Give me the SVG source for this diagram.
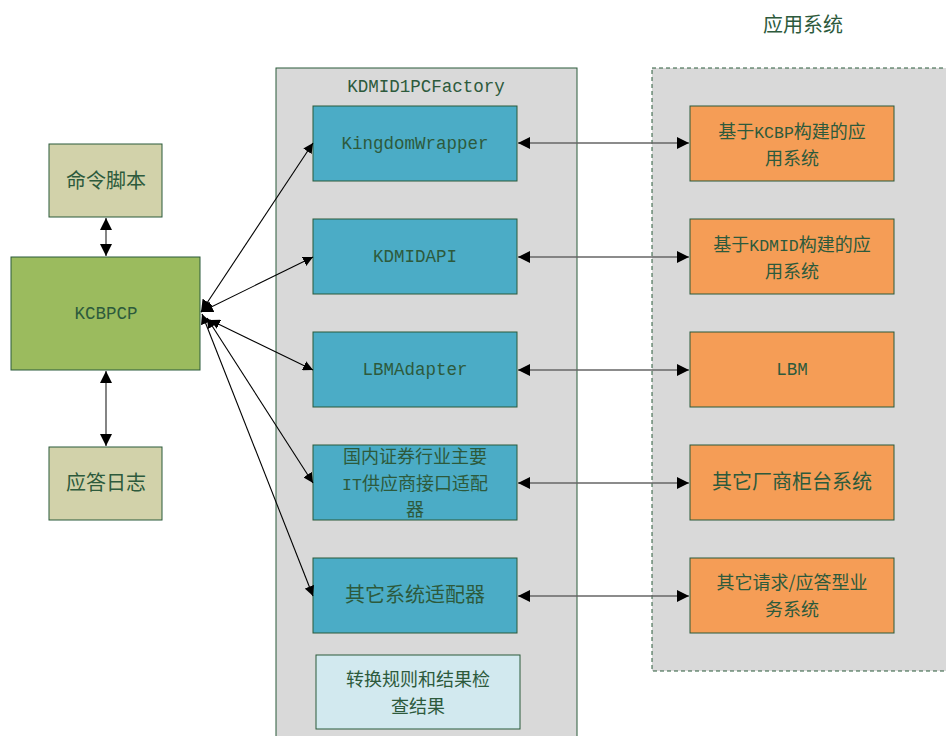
<svg xmlns="http://www.w3.org/2000/svg" width="946" height="736" viewBox="0 0 946 736">
<defs>
<style>
.t{font-family:"Noto Sans CJK SC","Liberation Mono",monospace;font-size:20px;fill:#2d5a3c;text-anchor:middle}
.s{font-size:18px}
.m{font-family:"Liberation Mono","Noto Sans CJK SC",monospace;font-size:17.5px}
.s .m{font-size:16.5px}
.box{stroke:#2a5a3a;stroke-width:1}
.cmd{fill:#d2d2aa}
.kc{fill:#9bbb5e}
.tl{fill:#4bacc6}
.or{fill:#f59d56}
.lt{fill:#d2e9ef}
.cn{fill:#d9d9d9}
.ln{stroke:#000;stroke-width:1.1;fill:none}
.hl{stroke:#666;stroke-width:1.6;fill:none}
</style>
<marker id="a" viewBox="0 0 10 10" refX="10" refY="5" markerWidth="10" markerHeight="10" markerUnits="userSpaceOnUse" orient="auto-start-reverse">
<path d="M0,0L10,5L0,10z" fill="#000"/>
</marker>
<marker id="b" viewBox="0 0 10 10" refX="10" refY="5" markerWidth="12" markerHeight="12" markerUnits="userSpaceOnUse" orient="auto-start-reverse">
<path d="M0,0L10,5L0,10z" fill="#000"/>
</marker>
</defs>
<rect width="946" height="736" fill="#fff"/>

<g id="factory">
<rect class="box cn" x="276" y="68" width="301" height="680"/>
<text class="t m" x="426" y="92">KDMID1PCFactory</text>
</g>
<g id="appsys">
<rect x="652" y="68" width="310" height="603" fill="#d9d9d9" stroke="#2a5a3a" stroke-width="1" stroke-dasharray="4,3"/>
<text class="t" x="803" y="32">应用系统</text>
</g>

<g id="cmd"><rect class="box cmd" x="49" y="144" width="113" height="73"/><text class="t" x="106" y="188">命令脚本</text></g>
<g id="kcbpcp"><rect class="box kc" x="11" y="257" width="189" height="113"/><text class="t m" x="106" y="319">KCBPCP</text></g>
<g id="log"><rect class="box cmd" x="49" y="447" width="113" height="73"/><text class="t" x="106" y="490">应答日志</text></g>

<g id="kw"><rect class="box tl" x="313" y="106" width="204" height="75"/><text class="t m" x="415" y="149">KingdomWrapper</text></g>
<g id="kapi"><rect class="box tl" x="313" y="219" width="204" height="75"/><text class="t m" x="415" y="262">KDMIDAPI</text></g>
<g id="lbma"><rect class="box tl" x="313" y="332" width="204" height="75"/><text class="t m" x="415" y="375">LBMAdapter</text></g>
<g id="itad"><rect class="box tl" x="313" y="445" width="204" height="75"/>
<text class="t s" x="415" y="463">国内证券行业主要</text>
<text class="t s" x="415" y="489.5"><tspan class="m">IT</tspan>供应商接口适配</text>
<text class="t s" x="415" y="516">器</text></g>
<g id="otad"><rect class="box tl" x="313" y="558" width="204" height="75"/><text class="t" x="415" y="602">其它系统适配器</text></g>
<g id="rule"><rect class="box lt" x="316" y="655" width="204" height="74"/>
<text class="t s" x="418" y="686">转换规则和结果检</text>
<text class="t s" x="418" y="712.5">查结果</text></g>

<g id="app1"><rect class="box or" x="690" y="106" width="204" height="75"/>
<text class="t s" x="792" y="138">基于<tspan class="m">KCBP</tspan>构建的应</text>
<text class="t s" x="792" y="164.5">用系统</text></g>
<g id="app2"><rect class="box or" x="690" y="219" width="204" height="75"/>
<text class="t s" x="792" y="251">基于<tspan class="m">KDMID</tspan>构建的应</text>
<text class="t s" x="792" y="277.5">用系统</text></g>
<g id="lbm"><rect class="box or" x="690" y="332" width="204" height="75"/><text class="t m" x="792" y="375">LBM</text></g>
<g id="other"><rect class="box or" x="690" y="445" width="204" height="75"/><text class="t" x="792" y="489">其它厂商柜台系统</text></g>
<g id="rr"><rect class="box or" x="690" y="558" width="204" height="75"/>
<text class="t s" x="792" y="589">其它请求/应答型业</text>
<text class="t s" x="792" y="615.5">务系统</text></g>

<g id="connectors">
<line class="hl" x1="106" y1="218" x2="106" y2="256" marker-start="url(#b)" marker-end="url(#b)"/>
<line class="hl" x1="106" y1="371" x2="106" y2="446" marker-start="url(#b)" marker-end="url(#b)"/>
<line class="ln" x1="201" y1="312" x2="313" y2="143" marker-start="url(#b)" marker-end="url(#a)"/>
<line class="ln" x1="201" y1="312" x2="313" y2="257" marker-start="url(#b)" marker-end="url(#a)"/>
<line class="ln" x1="210" y1="320" x2="313" y2="370" marker-start="url(#a)" marker-end="url(#a)"/>
<line class="ln" x1="207" y1="318" x2="313" y2="483" marker-start="url(#a)" marker-end="url(#a)"/>
<line class="ln" x1="202" y1="314" x2="313" y2="596" marker-start="url(#a)" marker-end="url(#a)"/>
<line class="hl" x1="518" y1="143" x2="689" y2="143" marker-start="url(#b)" marker-end="url(#b)"/>
<line class="hl" x1="518" y1="257" x2="689" y2="257" marker-start="url(#b)" marker-end="url(#b)"/>
<line class="hl" x1="518" y1="370" x2="689" y2="370" marker-start="url(#b)" marker-end="url(#b)"/>
<line class="hl" x1="518" y1="483" x2="689" y2="483" marker-start="url(#b)" marker-end="url(#b)"/>
<line class="hl" x1="518" y1="596" x2="689" y2="596" marker-start="url(#b)" marker-end="url(#b)"/>
</g>
</svg>
